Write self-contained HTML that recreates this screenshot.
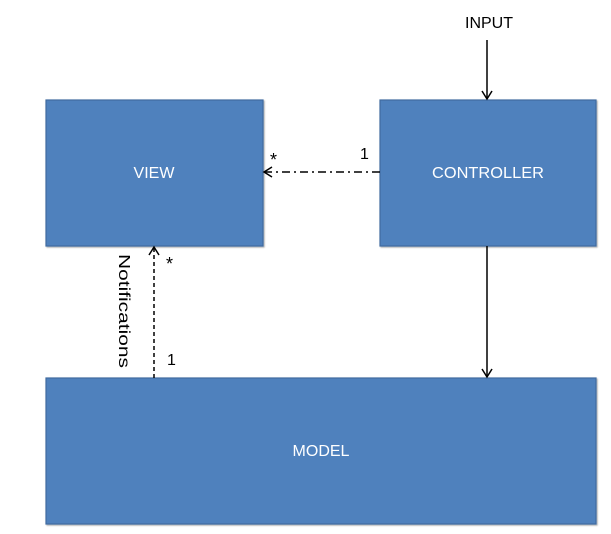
<!DOCTYPE html>
<html><head><style>
html,body{margin:0;padding:0;background:#fff;}
</style></head><body>
<svg width="611" height="534" viewBox="0 0 611 534" xmlns="http://www.w3.org/2000/svg" style="display:block">
<defs>
<filter id="s" x="-5%" y="-5%" width="110%" height="110%"><feDropShadow dx="1" dy="1" stdDeviation="0.8" flood-color="#000" flood-opacity="0.35"/></filter>
</defs>
<g fill="#4f81bd" stroke="#3f6b9f" stroke-width="1.2" filter="url(#s)">
<rect x="46" y="100" width="217" height="146"/>
<rect x="380" y="100" width="216" height="146"/>
<rect x="46" y="378" width="550" height="146"/>
</g>
<g font-family="'Liberation Sans',sans-serif" font-size="16" fill="#fff" text-anchor="middle">
<text x="154" y="178">VIEW</text>
<text x="488" y="178" textLength="112" lengthAdjust="spacingAndGlyphs">CONTROLLER</text>
<text x="321" y="456">MODEL</text>
</g>
<g font-family="'Liberation Sans',sans-serif" fill="#000">
<text x="489" y="28" font-size="16" text-anchor="middle">INPUT</text>
<text x="270" y="166" font-size="18">*</text>
<text x="360" y="159" font-size="16">1</text>
<text x="166" y="270" font-size="18">*</text>
<text x="167" y="365" font-size="16">1</text>
<text transform="translate(119,254) rotate(90)" font-size="16" textLength="114" lengthAdjust="spacingAndGlyphs">Notifications</text>
</g>
<g stroke="#000" stroke-width="1.5" fill="none">
<line x1="487" y1="40" x2="487" y2="99"/>
<polyline points="482,91 487,99 492,91"/>
<line x1="487" y1="246" x2="487" y2="377"/>
<polyline points="482,369 487,377 492,369"/>
<line x1="380" y1="172" x2="265" y2="172" stroke-dasharray="8,4,2,4"/>
<polyline points="272,167 264,172 272,177"/>
<line x1="154" y1="378" x2="154" y2="248" stroke-dasharray="4,3"/>
<polyline points="149,255 154,247 159,255"/>
</g>
</svg>
</body></html>
